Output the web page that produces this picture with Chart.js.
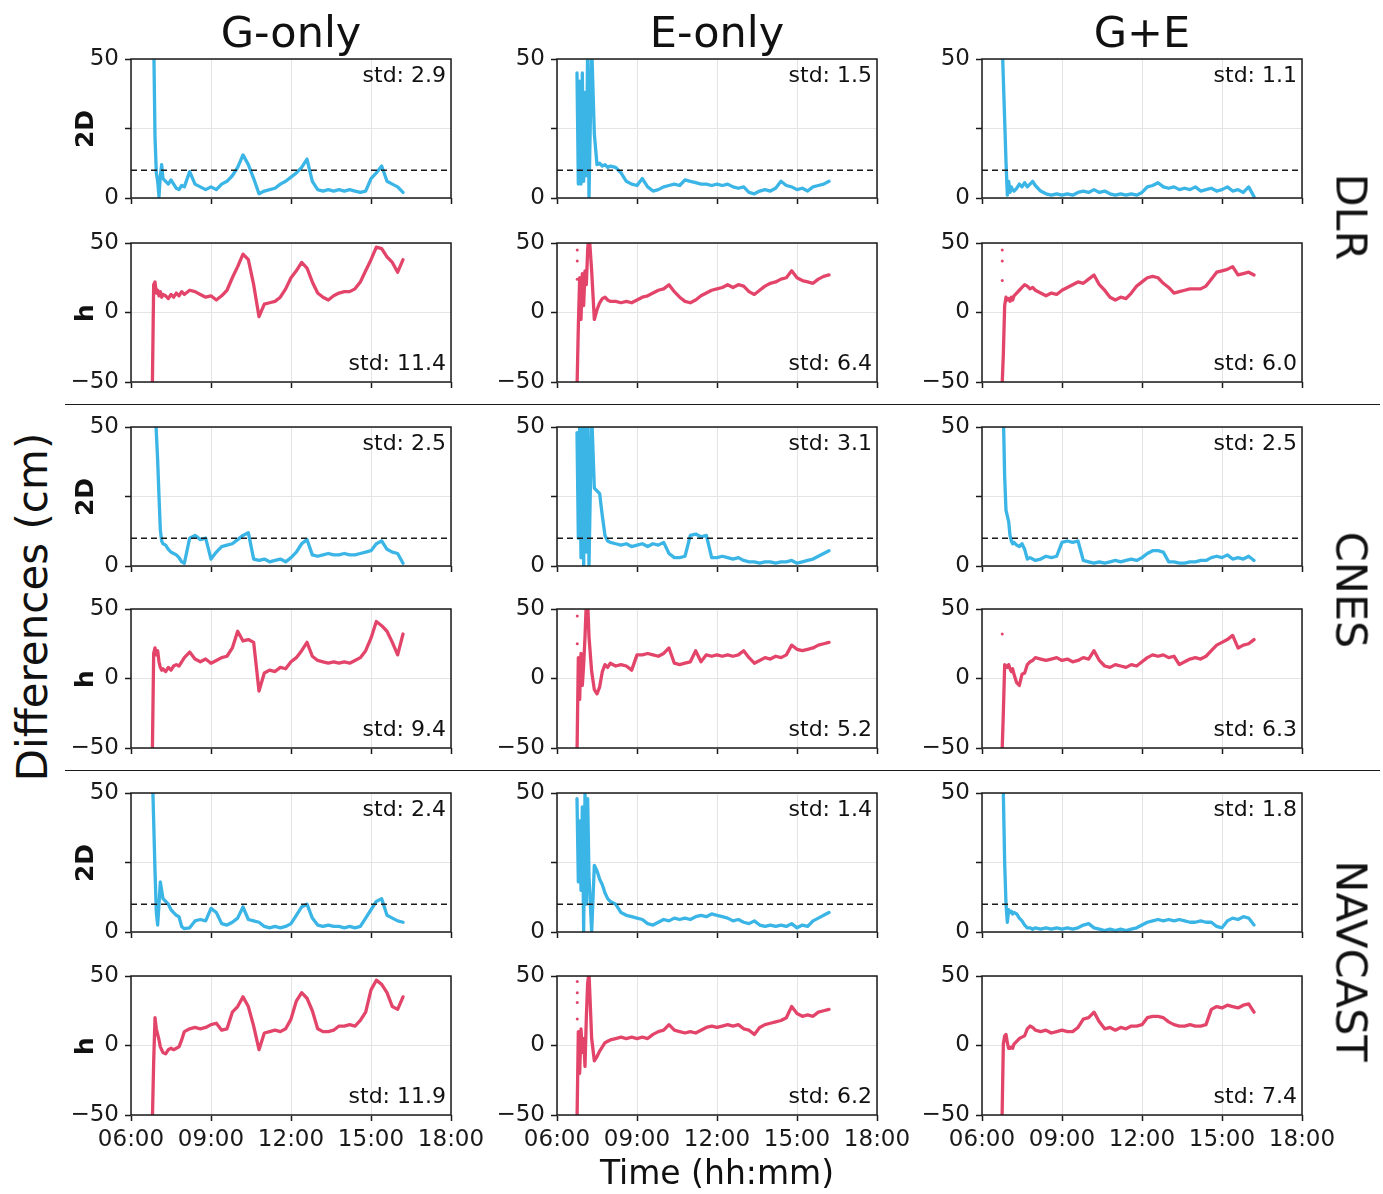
<!DOCTYPE html>
<html>
<head>
<meta charset="utf-8">
<script src="https://cdn.jsdelivr.net/npm/chart.js@4.4.1/dist/chart.umd.min.js"></script>
<style>
  body { margin: 0; background: #fff; }
  #fig { position: relative; width: 1383px; height: 1194px; overflow: hidden;
         font-family: "DejaVu Sans", sans-serif; color: #111; }
  #fig canvas { position: absolute; }
  .lbl { position: absolute; white-space: nowrap; line-height: 1; }
  .sep { position: absolute; height: 1.5px; background: #1a1a1a; }
</style>
</head>
<body>
<div id="fig"></div>
<script>
// time of each sample, decimal hours
const T = [6.75, 6.8, 6.85, 6.9, 6.95, 7.0, 7.05, 7.1, 7.15, 7.2,
  7.3, 7.4, 7.5, 7.6, 7.7, 7.8, 7.9, 8.0,
  8.2, 8.4, 8.6, 8.8, 9.0, 9.2, 9.4, 9.6, 9.8, 10.0,
  10.2, 10.4, 10.6, 10.8, 11.0, 11.2, 11.4, 11.6, 11.8, 12.0,
  12.2, 12.4, 12.6, 12.8, 13.0, 13.2, 13.4, 13.6, 13.8, 14.0,
  14.2, 14.4, 14.6, 14.8, 15.0, 15.2, 15.4, 15.6, 15.8, 16.0, 16.2];

const columns = ['G-only', 'E-only', 'G+E'];
const centres = ['DLR', 'CNES', 'NAVCAST'];
const xTicks = [6, 9, 12, 15, 18];
const limit2D = 10;

// DLR
const dlr2D_G = [null, null, 58, 22, 9, 6, 0.5, 8, 12, 7,
  6, 5, 6.5, 5, 3.5, 3, 4.5, 4,
  9.5, 5, 4, 3, 4, 3, 5, 6, 8, 11,
  15.5, 12, 7, 1.5, 2.5, 3, 3.5, 5, 6, 7.5,
  9, 11, 14, 6, 3, 2.5, 3, 2.5, 3, 2.5,
  3, 2.5, 2, 2.5, 7, 9, 11.5, 6, 5, 4, 2];
const dlrH_G = [null, -55, 20, 22, 14, 16, 12, 15, 11, 13,
  12, 10, 13, 11, 14, 12, 15, 13,
  16, 15, 13, 11, 12, 9, 12, 16, 25, 33,
  42, 38, 20, -3, 6, 7, 8, 11, 17, 25,
  30, 36, 32, 22, 14, 11, 9, 12, 14, 15,
  15, 17, 22, 30, 38, 47, 46, 40, 36, 29, 38];
const dlr2D_E = [45, 5, 42, 5, 45, 6, 38, 8, 55, 0,
  55, 23, 12, 12.5, 11.5, 12, 11, 11.5,
  11, 9, 6, 5, 4.5, 7, 4, 2.5, 3, 4,
  4.5, 5, 4.5, 6.5, 6, 5.5, 5, 5, 4.5, 5,
  4.5, 5, 4, 3.5, 4, 2, 1.5, 2.5, 3, 2.5,
  3.5, 6, 4.5, 4, 3, 3.5, 2.5, 4, 4.5, 5, 6];
const dlrH_E = [-55, -10, 25, -5, 28, 5, 30, 20, 45, 58,
  30, -5, 2, 7, 10, 11, 9, 8,
  8, 7, 8, 7, 9, 11, 12, 14, 16, 17,
  20, 15, 11, 8, 7, 9, 12, 14, 16, 17,
  18, 20, 18, 20, 19, 15, 13, 16, 19, 21,
  22, 24, 25, 30, 25, 23, 22, 21, 24, 26, 27];
const dlr2D_GE = [58, 43, 28, 13, 1, 6, 2, 4, 3, 2.5,
  3.5, 5, 4, 5.5, 4, 5, 6, 4.5,
  2.5, 1.5, 1, 1.5, 1, 1.5, 1, 2, 2.5, 2,
  3, 2, 2.5, 1.5, 1, 1.5, 1, 1.5, 1, 2,
  4, 4.5, 5.5, 4, 3.5, 4, 3, 3.5, 3, 4,
  2.5, 3, 3.5, 2.5, 3, 4, 2.5, 3, 2, 4, 0.5];
const dlrH_GE = [-55, -30, 5, 11, 9, 10, 8, 11, 9, 12,
  14, 16, 18, 20, 19, 17, 18, 16,
  14, 12, 14, 13, 16, 18, 20, 22, 21, 24,
  27, 20, 16, 11, 9, 11, 10, 14, 19, 22,
  25, 26, 25, 21, 18, 14, 15, 16, 17, 17,
  17, 19, 24, 29, 30, 31, 33, 27, 28, 29, 27];

// CNES
const cnes2D_G = [null, null, null, 60, 48, 38, 25, 13, 9, 8,
  7.5, 6, 5, 4.5, 4, 3, 1.5, 1,
  10, 11, 9.5, 10, 2.5, 5, 7, 7.5, 8, 9.5,
  11, 12, 2.5, 2, 2.5, 1.5, 2, 2.5, 1.5, 3,
  5, 8, 9.5, 4, 3.5, 4, 4.5, 4, 4, 4.5,
  4, 4, 4.5, 5, 5.5, 8, 9, 6, 5, 4.5, 1];
const cnesH_G = [null, -55, 18, 22, 17, 20, 12, 8, 6, 7,
  5, 8, 6, 9, 10, 9, 12, 15,
  19, 14, 12, 14, 11, 13, 15, 16, 22, 34,
  27, 28, 26, -9, 4, 6, 5, 8, 7, 12,
  15, 20, 26, 16, 13, 12, 11, 12, 11, 12,
  11, 13, 15, 20, 29, 41, 38, 34, 26, 17, 32];
const cnes2D_E = [48, 10, 50, 3, 55, 0, 52, 5, 55, 0,
  55, 28, 27, 26, 18, 11, 9, 8.5,
  8, 7.5, 8, 7, 7.5, 8, 7, 8, 7.5, 8.5,
  4.5, 3, 3, 3.5, 11, 11.5, 10.5, 11, 3, 3,
  3.5, 3, 2.5, 3, 2, 1.5, 1.5, 1, 1.5, 1.5,
  1, 1.5, 1.5, 2, 1, 1.5, 2, 2.5, 3.5, 4.5, 5.5];
const cnesH_E = [-55, 15, -15, 18, -5, 10, 30, 55, 55, 30,
  5, -8, -11, -6, 5, 10, 8, 11,
  9, 10, 9, 6, 17, 17, 18, 17, 16, 18,
  22, 11, 10, 11, 12, 20, 12, 17, 16, 17,
  16, 17, 16, 17, 20, 15, 11, 13, 15, 14,
  16, 15, 17, 24, 21, 20, 21, 22, 24, 25, 26];
const cnes2D_GE = [null, 55, 32, 20, 18, 16, 11, 9, 8, 8.5,
  7.5, 7, 8, 6, 2.5, 3, 2.5, 2,
  2.5, 3.5, 3, 3.5, 8.5, 9, 8.5, 9, 2, 1.5,
  1, 1.5, 1, 1.5, 2, 1.5, 2, 2.5, 2, 3,
  4.5, 5.5, 5.5, 5, 1.5, 1.5, 1, 1, 1.5, 1.5,
  2, 2, 3, 3.5, 3, 4, 2.5, 3, 2.5, 3.5, 2];
const cnesH_GE = [-55, -25, 10, 9, 8, 10, 7, 5, 7, 3,
  -3, -5, 3, 4, 10, 12, 13, 15,
  14, 13, 14, 15, 13, 14, 12, 13, 15, 14,
  20, 13, 9, 8, 10, 9, 8, 10, 9, 12,
  15, 17, 16, 17, 15, 16, 10, 12, 14, 15,
  14, 16, 20, 24, 26, 28, 31, 22, 24, 25, 28];

// NAVCAST
const nav2D_G = [null, 58, 40, 22, 7, 2.5, 10, 18, 15, 12,
  11, 10, 8, 7, 6, 5.5, 2, 1.2,
  1.5, 4, 4.5, 4, 8.5, 7, 3, 2.5, 3.5, 5,
  9, 4.5, 4, 3.5, 2, 1.5, 2, 1.5, 2, 3,
  6, 9, 10, 5, 2.5, 2, 2.5, 2, 2, 1.5,
  2, 1.5, 2, 5, 8, 11, 12, 6, 5, 4, 3.5];
const navH_G = [null, -55, -12, 20, 12, 8, 4, -1, -3, -5,
  -6, -3, -2, -3, -2, -1, 4, 10,
  12, 13, 12, 13, 15, 16, 11, 12, 24, 28,
  35, 28, 14, -3, 9, 10, 11, 10, 12, 19,
  32, 38, 34, 25, 12, 10, 10, 11, 14, 14,
  15, 14, 18, 24, 40, 47, 44, 38, 28, 26, 35];
const nav2D_E = [48, 18, 40, 15, 45, 0, 50, 10, 48, 20,
  0, 24, 22, 19, 17, 14, 12, 11,
  10, 7, 6, 5.5, 5, 4.5, 3, 2.5, 3.5, 4.5,
  4, 5, 4.5, 5, 4.5, 5.5, 6, 5.5, 6.5, 6,
  5.5, 5, 4, 4.5, 3.5, 3, 4, 2.5, 2, 2.5,
  2, 2.5, 2, 3, 1.5, 2.5, 2, 4, 5, 6, 7];
const navH_E = [-55, 10, -20, 12, -5, 5, -15, 20, 45, 52,
  5, -11, -8, -4, -1, 2, 3, 4,
  5, 6, 5, 6, 5, 6, 5, 8, 10, 11,
  15, 11, 10, 9, 10, 9, 11, 13, 14, 13,
  14, 15, 14, 15, 12, 11, 8, 13, 15, 16,
  17, 18, 20, 28, 23, 21, 22, 21, 24, 25, 26];
const nav2D_GE = [null, 50, 25, 10, 3.5, 8, 7, 7.5, 6.5, 7,
  6.5, 5, 4, 2.5, 1.5, 1.5, 1, 1.5,
  1, 1.5, 1, 1.5, 1, 1.5, 1, 1.5, 2.5, 3,
  1.5, 1, 0.5, 1, 0.5, 1, 0.5, 1, 1.5, 2.5,
  3.5, 4, 4.5, 4, 4.5, 4, 4.5, 4, 3.5, 3.5,
  4, 3.5, 3.5, 2, 1.5, 4, 5, 4.5, 5.5, 5, 2.5];
const navH_GE = [-55, 1, 7, 8, 2, -2, -2, -1, -2, 1,
  3, 5, 6, 7, 12, 14, 13, 11,
  10, 11, 9, 10, 11, 10, 10, 13, 19, 20,
  24, 17, 12, 13, 11, 13, 12, 14, 14, 15,
  20, 21, 21, 20, 17, 15, 14, 14, 15, 14,
  14, 15, 26, 28, 27, 29, 28, 27, 29, 30, 24];

// loose early fixes drawn as dots
const dotsT = [6.76, 6.76, 6.76, 6.76];
const dotsDLRh_E = [45, 37, 24];
const dotsDLRh_GE = [45, 37, 23];
const dotsCNESh_E = [45, 25];
const dotsCNESh_GE = [32];
const dotsNAVh_E = [46, 38, 31, 19];

// std per row, columns G-only, E-only, G+E
const stdDLR2D = [2.9, 1.5, 1.1];
const stdDLRh = [11.4, 6.4, 6.0];
const stdCNES2D = [2.5, 3.1, 2.5];
const stdCNESh = [9.4, 5.2, 6.3];
const stdNAV2D = [2.4, 1.4, 1.8];
const stdNAVh = [11.9, 6.2, 7.4];

const rows = [
  { kind: '2D', series: [dlr2D_G, dlr2D_E, dlr2D_GE], std: stdDLR2D, dots: [null, null, null] },
  { kind: 'h', series: [dlrH_G, dlrH_E, dlrH_GE], std: stdDLRh, dots: [null, dotsDLRh_E, dotsDLRh_GE] },
  { kind: '2D', series: [cnes2D_G, cnes2D_E, cnes2D_GE], std: stdCNES2D, dots: [null, null, null] },
  { kind: 'h', series: [cnesH_G, cnesH_E, cnesH_GE], std: stdCNESh, dots: [null, dotsCNESh_E, dotsCNESh_GE] },
  { kind: '2D', series: [nav2D_G, nav2D_E, nav2D_GE], std: stdNAV2D, dots: [null, null, null] },
  { kind: 'h', series: [navH_G, navH_E, navH_GE], std: stdNAVh, dots: [null, dotsNAVh_E, null] }
];

// layout (px)
const COL_LEFT = [131, 557, 982];
const ROW_TOP = [59, 243, 427, 609, 793, 976];
const PLOT_W = 320, PLOT_H = 139;
const PADL = 72, PADR = 40, PADT = 14;
const BLUE = '#3ab5e6', RED = '#e3456a', INK = '#1a1a1a';

Chart.defaults.font.family = '"DejaVu Sans", sans-serif';
Chart.defaults.color = INK;

const fig = document.getElementById('fig');

const framePlugin = {
  id: 'frame',
  afterDraw: function (chart) {
    var a = chart.chartArea, c = chart.ctx;
    c.save();
    c.strokeStyle = INK;
    c.lineWidth = 1.5;
    c.strokeRect(a.left, a.top, a.right - a.left, a.bottom - a.top);
    c.restore();
  }
};

function fmtTime(v) {
  return (v < 10 ? '0' : '') + v + ':00';
}

function fmtY(v) {
  if (v === 25) return '';
  return v < 0 ? '\u2212' + Math.abs(v) : String(v);
}

function addPlot(ci, ri) {
  var row = rows[ri];
  var is2D = row.kind === '2D';
  var last = ri === rows.length - 1;
  var padB = last ? 46 : 12;
  var w = PADL + PLOT_W + PADR, h = PADT + PLOT_H + padB;
  var cv = document.createElement('canvas');
  cv.width = w; cv.height = h;
  cv.style.width = w + 'px'; cv.style.height = h + 'px';
  cv.style.left = (COL_LEFT[ci] - PADL) + 'px';
  cv.style.top = (ROW_TOP[ri] - PADT) + 'px';
  fig.appendChild(cv);

  var color = is2D ? BLUE : RED;
  var vals = row.series[ci];
  var datasets = [];
  if (is2D) {
    datasets.push({
      data: [{ x: 6, y: limit2D }, { x: 18, y: limit2D }],
      borderColor: INK, borderWidth: 1.4, borderDash: [6, 4], pointRadius: 0
    });
  }
  datasets.push({
    data: T.map(function (t, i) { return { x: t, y: vals[i] }; }),
    borderColor: color, borderWidth: 3.3, pointRadius: 0, spanGaps: false,
    borderJoinStyle: 'round', borderCapStyle: 'round'
  });
  var dots = row.dots[ci];
  if (dots) {
    datasets.push({
      data: dots.map(function (v, i) { return { x: dotsT[i], y: v }; }),
      showLine: false, pointRadius: 1.5, pointBorderWidth: 0, pointBackgroundColor: color
    });
  }

  var yTicks = is2D ? [0, 25, 50] : [-50, 0, 50];

  new Chart(cv, {
    type: 'line',
    data: { datasets: datasets },
    options: {
      responsive: false,
      animation: false,
      devicePixelRatio: 1,
      layout: { padding: { left: 0, right: PADR, top: PADT, bottom: 0 } },
      plugins: { legend: { display: false }, tooltip: { enabled: false } },
      scales: {
        x: {
          type: 'linear', min: 6, max: 18,
          afterBuildTicks: function (s) { s.ticks = xTicks.map(function (v) { return { value: v }; }); },
          ticks: { display: last, autoSkip: false, maxRotation: 0, padding: 5,
                   font: { size: 23 }, color: INK, callback: fmtTime },
          grid: { color: '#e4e4e4', lineWidth: 1, tickColor: INK, tickWidth: 1.5, tickLength: 6 },
          border: { display: false },
          afterFit: function (s) { s.height = padB; s.paddingLeft = 0; s.paddingRight = 0; }
        },
        y: {
          min: yTicks[0], max: yTicks[2],
          afterBuildTicks: function (s) { s.ticks = yTicks.map(function (v) { return { value: v }; }); },
          ticks: { padding: 6, font: { size: 23 }, color: INK, callback: fmtY },
          grid: { color: '#e4e4e4', lineWidth: 1, tickColor: INK, tickWidth: 1.5, tickLength: 6 },
          border: { display: false },
          afterFit: function (s) { s.width = PADL; s.paddingTop = 0; s.paddingBottom = 0; }
        }
      }
    },
    plugins: [framePlugin]
  });

  // std annotation
  var stdY = is2D ? ROW_TOP[ri] + 16 : ROW_TOP[ri] + PLOT_H - 19;
  addLabel('std: ' + row.std[ci].toFixed(1), COL_LEFT[ci] + PLOT_W - 5, stdY,
           'font-size:22px;', 'translate(-100%,-50%)');
}

function addLabel(text, x, y, css, transform) {
  var d = document.createElement('div');
  d.className = 'lbl';
  d.textContent = text;
  d.style.cssText += 'left:' + x + 'px;top:' + y + 'px;' + css +
    'transform:' + (transform || 'translate(-50%,-50%)') + ';';
  fig.appendChild(d);
  return d;
}

for (var r = 0; r < rows.length; r++) {
  for (var c = 0; c < columns.length; c++) addPlot(c, r);
}

// column titles
columns.forEach(function (name, i) {
  addLabel(name, COL_LEFT[i] + PLOT_W / 2, 32, 'font-size:43px;');
});

// centre names on the right
[217, 590, 961].forEach(function (y, i) {
  addLabel(centres[i], 1351, y, 'font-size:43px;', 'translate(-50%,-50%) rotate(90deg)');
});

// row quantity labels
rows.forEach(function (row, i) {
  addLabel(row.kind, 84, ROW_TOP[i] + PLOT_H / 2, 'font-size:25px;font-weight:bold;',
           'translate(-50%,-50%) rotate(-90deg)');
});

addLabel('Differences (cm)', 33, 607, 'font-size:42px;', 'translate(-50%,-50%) rotate(-90deg)');
addLabel('Time (hh:mm)', 717, 1172, 'font-size:33px;');

// separators between centres
[403.5, 769.5].forEach(function (y) {
  var s = document.createElement('div');
  s.className = 'sep';
  s.style.left = '65px';
  s.style.top = y + 'px';
  s.style.width = '1315px';
  fig.appendChild(s);
});
</script>
</body>
</html>
